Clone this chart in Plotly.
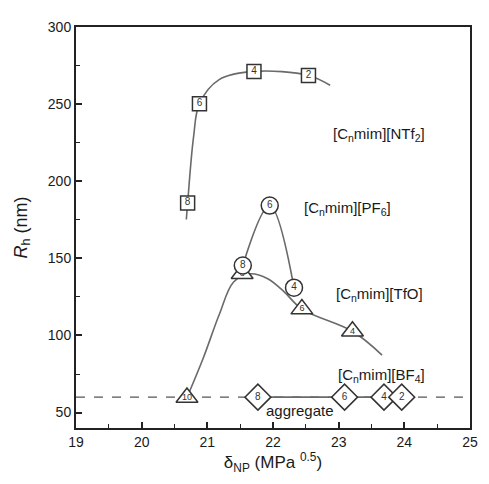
import plotly.graph_objects as go

# ---- data ----
ntf2_x = [20.70, 20.88, 21.71, 22.54]
ntf2_y = [185.9, 250.3, 271.2, 268.6]
ntf2_n = ["8", "6", "4", "2"]
ntf2_fit_x = [20.68, 20.70, 20.79, 20.88, 21.18, 21.71, 22.54, 22.87]
ntf2_fit_y = [175.2, 185.9, 228.6, 250.3, 265.9, 271.2, 268.6, 262.2]

pf6_x = [21.54, 21.95, 22.32]
pf6_y = [145.4, 184.2, 131.0]
pf6_n = ["8", "6", "4"]

tfo_x = [20.69, 21.53, 22.44, 23.21]
tfo_y = [59.8, 140.0, 117.1, 102.7]
tfo_n = ["10", "8", "6", "4"]
tfo_fit_x = [20.69, 20.94, 21.18, 21.40, 21.65, 21.92, 22.17, 22.44, 23.21, 23.66]
tfo_fit_y = [59.8, 85.6, 113.4, 134.7, 140.0, 136.8, 128.3, 117.1, 102.7, 87.3]

bf4_x = [21.77, 23.09, 23.69, 23.96]
bf4_y = [60, 60, 60, 60]
bf4_n = ["8", "6", "4", "2"]

agg_level = 60

labels = ["[C<sub>n</sub>mim][NTf<sub>2</sub>]", "[C<sub>n</sub>mim][PF<sub>6</sub>]",
          "[C<sub>n</sub>mim][TfO]", "[C<sub>n</sub>mim][BF<sub>4</sub>]", "aggregate"]
label_x = [22.88, 22.44, 22.93, 22.96, 22.41]
label_y = [230, 182.6, 126.3, 73.8, 51.5]
label_anchor = ["left", "left", "left", "left", "center"]

LINE = "#6a6a6a"
MK = "#333333"
TXT = "#1a1a1a"
FONT = "Liberation Sans, Arial, sans-serif"

fig = go.Figure()

fig.add_hline(y=agg_level, layer="below", line=dict(color="#555555", width=1.2, dash="dash"))

def curve(x, y):
    fig.add_trace(go.Scatter(x=x, y=y, mode="lines", line=dict(color=LINE, width=1.6, shape="spline", smoothing=1.0),
                             hoverinfo="skip", showlegend=False))

curve(ntf2_fit_x, ntf2_fit_y)
curve(pf6_x, pf6_y)
curve(tfo_fit_x, tfo_fit_y)
fig.add_trace(go.Scatter(x=bf4_x[:3], y=bf4_y[:3], mode="lines", line=dict(color=LINE, width=1.6),
                         hoverinfo="skip", showlegend=False))

def markers(x, y, n, symbol, size, tsize):
    fig.add_trace(go.Scatter(x=x, y=y, mode="markers+text", text=n, textposition="middle center",
                             textfont=dict(size=tsize, color=MK, family=FONT),
                             marker=dict(symbol=symbol, size=size, color="white", line=dict(color=MK, width=1.5)),
                             showlegend=False))

markers(tfo_x, tfo_y, tfo_n, "triangle-up", 19, 9)
markers(pf6_x, pf6_y, pf6_n, "circle", 17, 10)
markers(ntf2_x, ntf2_y, ntf2_n, "square", 14, 10)
markers(bf4_x, bf4_y, bf4_n, "diamond", 20, 10)

for t, x, y, a in zip(labels, label_x, label_y, label_anchor):
    fig.add_annotation(x=x, y=y, text=t, showarrow=False, xanchor=a, yanchor="middle",
                       font=dict(size=15, color=TXT, family=FONT))

axis_common = dict(showline=True, linecolor="#222222", linewidth=2, mirror=True, showgrid=False, zeroline=False,
                   ticks="inside", ticklen=6, tickwidth=1.5, tickcolor="#222222",
                   ticklabeloverflow="allow",
                   tickfont=dict(size=14, color=TXT, family=FONT))

fig.update_xaxes(range=[19, 25], dtick=1, tick0=19,
                 minor=dict(ticks="inside", ticklen=4, dtick=0.5, tickcolor="#222222", tickwidth=1.2),
                 title=dict(text="δ<sub>NP</sub> (MPa <sup>0.5</sup>)", font=dict(size=17, color=TXT, family=FONT), standoff=6),
                 **axis_common)
fig.update_yaxes(range=[40, 300], dtick=50, tick0=0,
                 minor=dict(ticks="inside", ticklen=4, dtick=25, tickcolor="#222222", tickwidth=1.2),
                 title=dict(text="<i>R</i><sub>h</sub> (nm)", font=dict(size=18, color=TXT, family=FONT), standoff=16),
                 **axis_common)

# page body has an 8px margin, so the figure is sized to fill the remaining window
fig.update_layout(width=481, height=476, margin=dict(l=64, r=11, t=14, b=56),
                  plot_bgcolor="white", paper_bgcolor="white", font=dict(family=FONT))

fig.write_html("out.html")
